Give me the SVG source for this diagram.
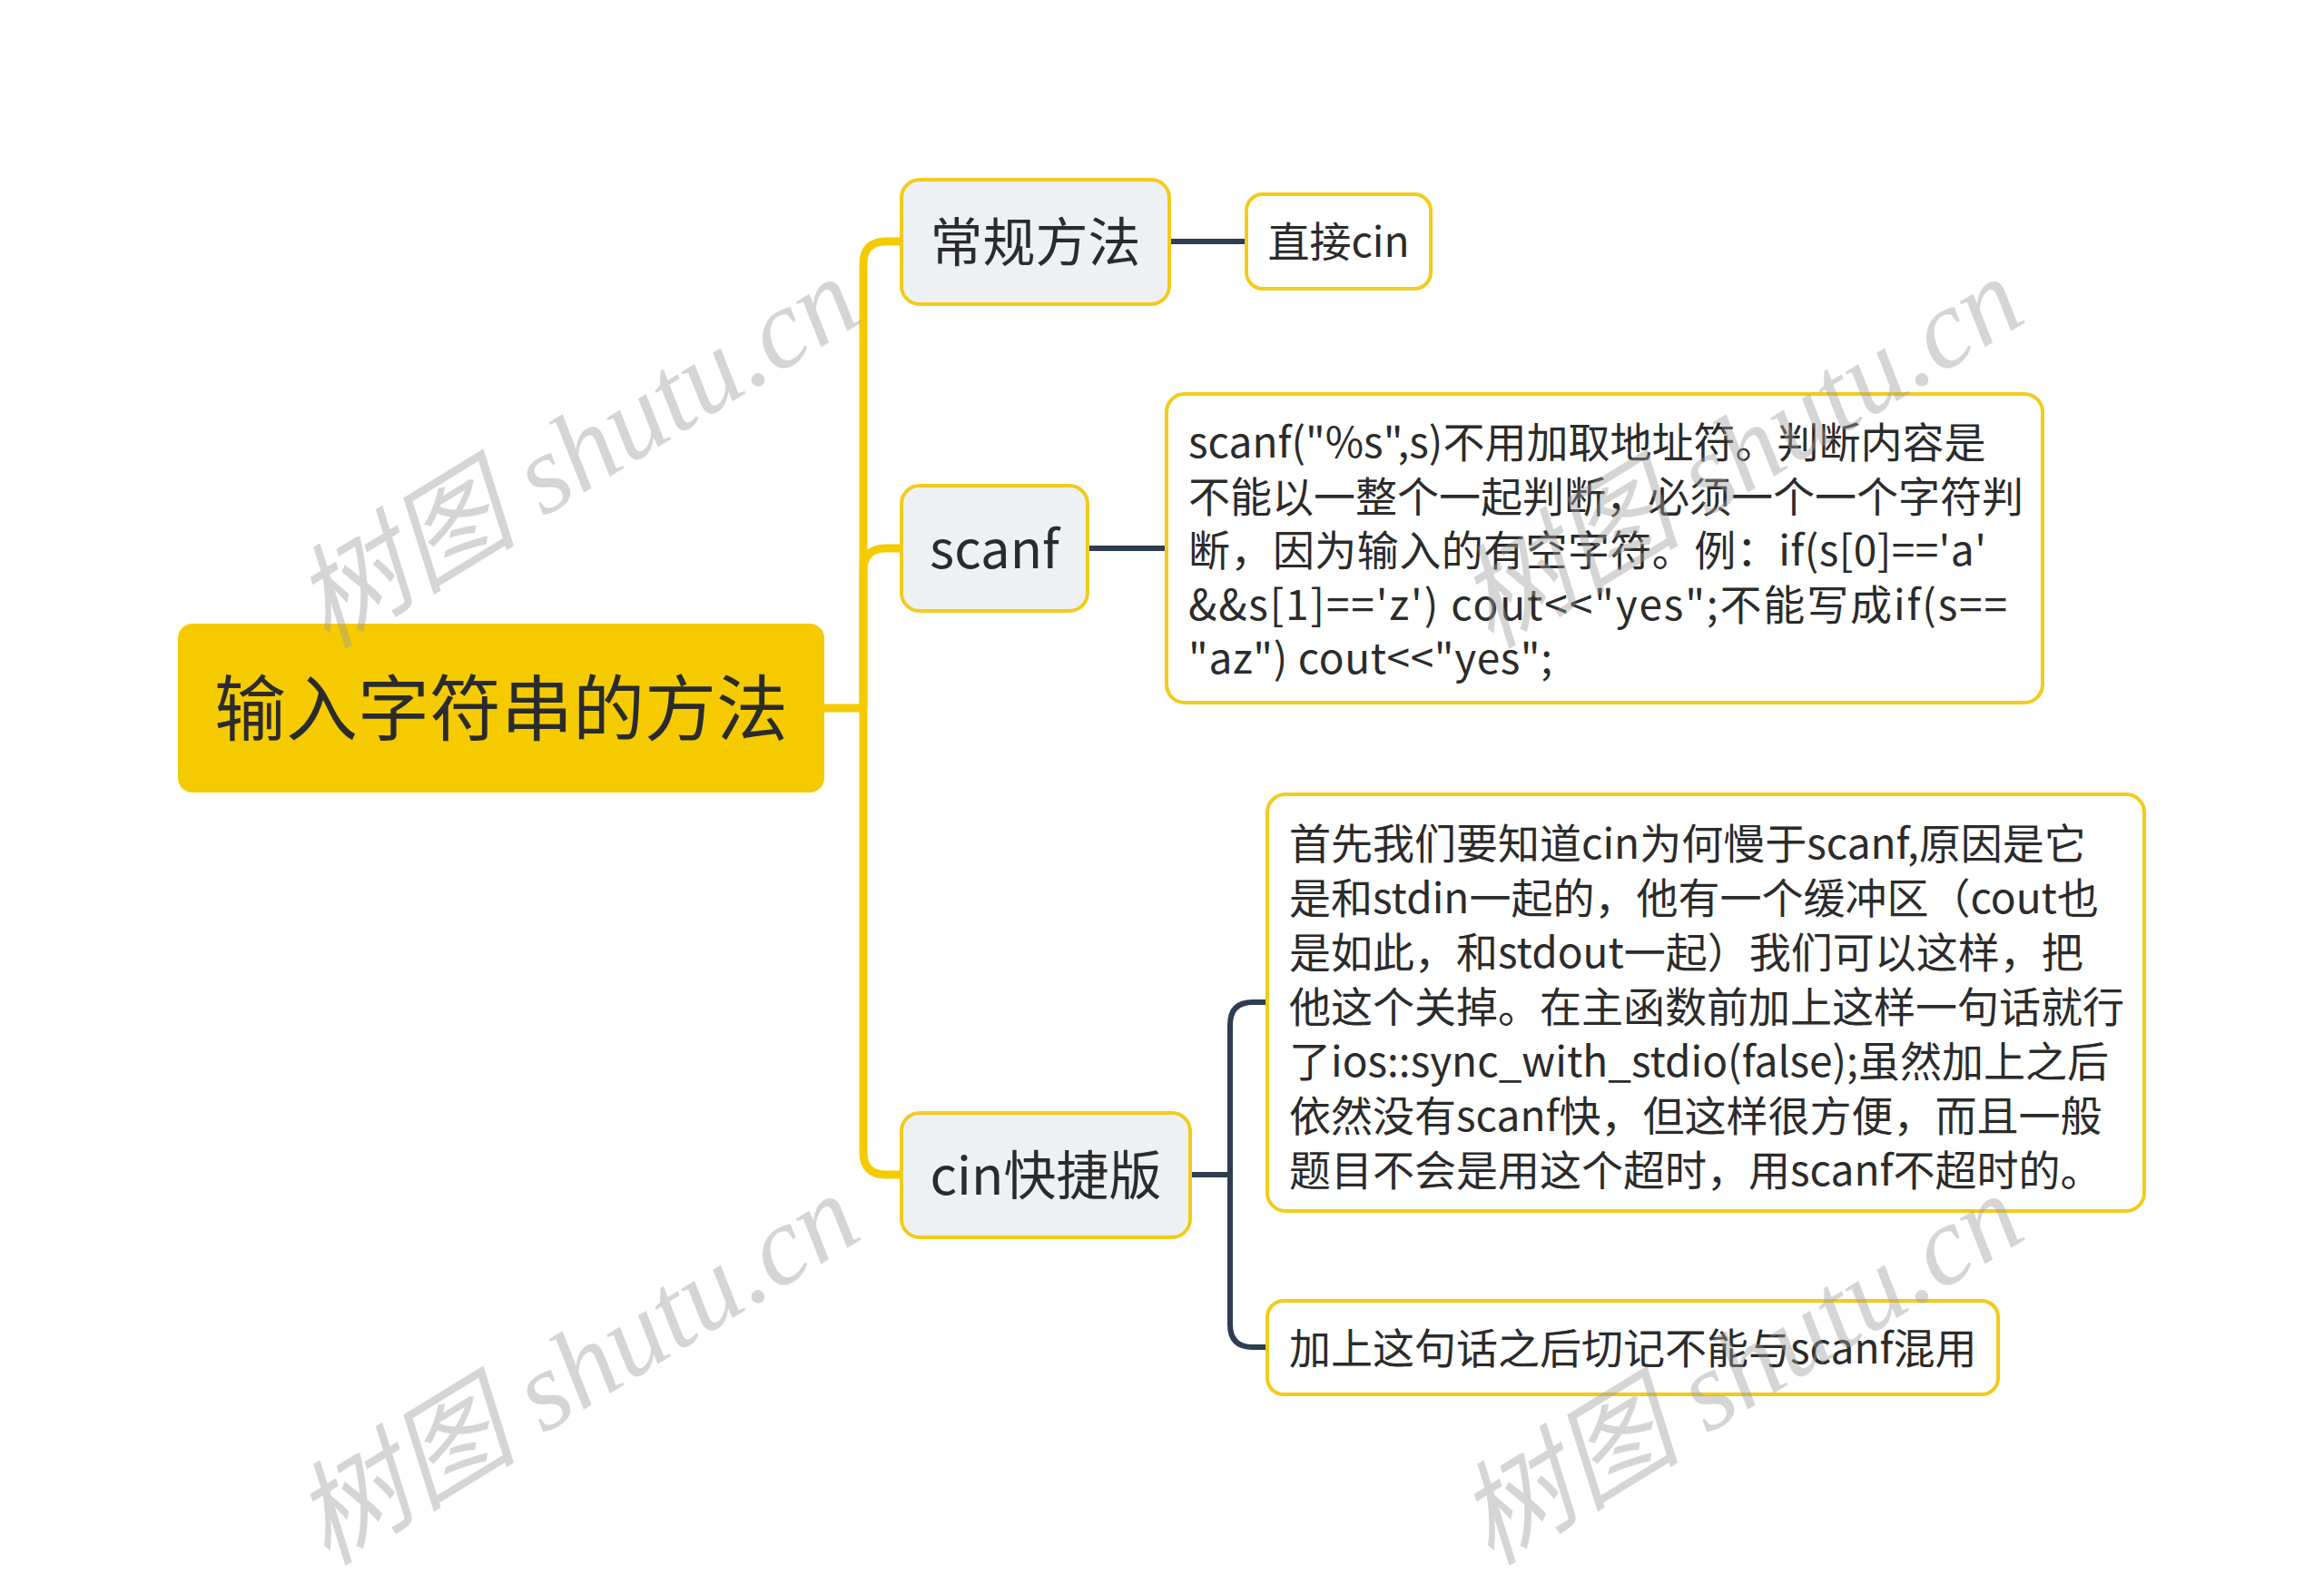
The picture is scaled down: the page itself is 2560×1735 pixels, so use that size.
<svg xmlns="http://www.w3.org/2000/svg" width="2560" height="1735" viewBox="0 0 2560 1735">
<style>
.t{font-family:"Noto Sans CJK SC","Noto Sans",sans-serif;fill:#2B2B2B}
.sub{fill:#EEF1F4;stroke:#F2CB1C;stroke-width:4}
.leaf{fill:#FFFFFF;stroke:#F2CB1C;stroke-width:4}
.y{fill:none;stroke:#F5CB00;stroke-width:9;stroke-linejoin:round}
.d{fill:none;stroke:#2E3D50;stroke-width:6;stroke-linejoin:round}
.wm{font-family:"Liberation Serif","Noto Sans CJK SC",serif;font-style:italic;font-size:124px;fill:#9A9A9A;fill-opacity:0.42;text-anchor:middle}
</style>
<rect width="2560" height="1735" fill="#FFFFFF"/>
<g id="connectors">
<path class="y" d="M908 780 H951"/>
<path class="y" d="M951 780 V291 Q951 266 976 266 H993"/>
<path class="y" d="M951 780 V629 Q951 604 976 604 H993"/>
<path class="y" d="M951 780 V1269 Q951 1294 976 1294 H993"/>
<path class="d" d="M1289 266 H1373"/>
<path class="d" d="M1198 604 H1285"/>
<path class="d" d="M1311 1294 H1355"/>
<path class="d" d="M1355 1294 V1129 Q1355 1104 1380 1104 H1396"/>
<path class="d" d="M1355 1294 V1459 Q1355 1484 1380 1484 H1396"/>
</g>
<g id="root">
<rect x="196" y="687" width="712" height="186" rx="16" fill="#F5CB00"/>
<text class="t" x="552" y="810" font-size="79" text-anchor="middle">输入字符串的方法</text>
</g>
<g id="n-changgui">
<rect class="sub" x="993" y="198" width="295" height="137" rx="20"/>
<text class="t" x="1140.5" y="288" font-size="58" text-anchor="middle">常规方法</text>
</g>
<g id="n-zhijiecin">
<rect class="leaf" x="1373" y="214" width="203" height="104" rx="18"/>
<text class="t" x="1474.5" y="283" font-size="46" text-anchor="middle">直接cin</text>
</g>
<g id="n-scanf">
<rect class="sub" x="993" y="535" width="205" height="138" rx="20"/>
<text class="t" x="1095.5" y="626" font-size="58" text-anchor="middle">scanf</text>
</g>
<g id="n-scanf-note">
<rect class="leaf" x="1285" y="434" width="965" height="340" rx="20"/>
<text class="t" font-size="46">
<tspan x="1309" y="504">scanf("%s",s)不用加取地址符。判断内容是</tspan>
<tspan x="1309" y="564">不能以一整个一起判断，必须一个一个字符判</tspan>
<tspan x="1309" y="623" textLength="879" lengthAdjust="spacing">断，因为输入的有空字符。例：if(s[0]=='a'</tspan>
<tspan x="1309" y="683" textLength="902" lengthAdjust="spacing">&amp;&amp;s[1]=='z') cout&lt;&lt;"yes";不能写成if(s==</tspan>
<tspan x="1309" y="742" textLength="401" lengthAdjust="spacing">"az") cout&lt;&lt;"yes";</tspan>
</text>
</g>
<g id="n-cinfast">
<rect class="sub" x="993" y="1226" width="318" height="137" rx="20"/>
<text class="t" x="1152" y="1316" font-size="58" text-anchor="middle">cin快捷版</text>
</g>
<g id="n-cin-note">
<rect class="leaf" x="1396" y="875" width="966" height="459" rx="20"/>
<text class="t" font-size="46">
<tspan x="1420" y="946">首先我们要知道cin为何慢于scanf,原因是它</tspan>
<tspan x="1420" y="1006">是和stdin一起的，他有一个缓冲区（cout也</tspan>
<tspan x="1420" y="1066">是如此，和stdout一起）我们可以这样，把</tspan>
<tspan x="1420" y="1126">他这个关掉。在主函数前加上这样一句话就行</tspan>
<tspan x="1420" y="1186">了ios::sync_with_stdio(false);虽然加上之后</tspan>
<tspan x="1420" y="1246">依然没有scanf快，但这样很方便，而且一般</tspan>
<tspan x="1420" y="1306">题目不会是用这个超时，用scanf不超时的。</tspan>
</text>
</g>
<g id="n-cin-warn">
<rect class="leaf" x="1396" y="1433" width="805" height="103" rx="18"/>
<text class="t" x="1420" y="1502" font-size="46">加上这句话之后切记不能与scanf混用</text>
</g>
<g id="watermarks">
<text class="wm" transform="translate(636 500) rotate(-31.5)" x="0" y="40">树图 shutu.cn</text>
<text class="wm" transform="translate(636 1510) rotate(-31.5)" x="0" y="40">树图 shutu.cn</text>
<text class="wm" transform="translate(1918 500) rotate(-31.5)" x="0" y="40">树图 shutu.cn</text>
<text class="wm" transform="translate(1918 1510) rotate(-31.5)" x="0" y="40">树图 shutu.cn</text>
</g>
</svg>
